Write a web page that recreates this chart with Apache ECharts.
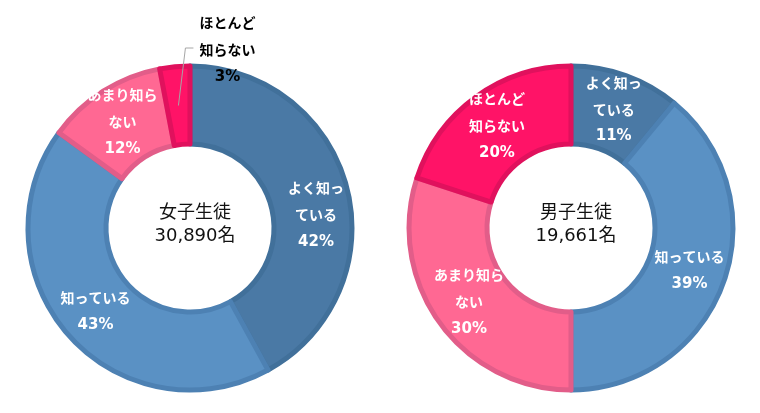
<!DOCTYPE html>
<html>
<head>
<meta charset="utf-8">
<script src="https://cdn.jsdelivr.net/npm/echarts@6/dist/echarts.min.js"></script>
<style>
html,body{margin:0;padding:0;background:#fff;}
#chart{width:760px;height:413px;}
</style>
</head>
<body>
<div id="chart"></div>
<script>
// ---- data ----
const categories = ['よく知っている', '知っている', 'あまり知らない', 'ほとんど知らない'];
const categoryLabels = ['よく知っ\nている', '知っている', 'あまり知ら\nない', 'ほとんど\n知らない'];
const femaleValues = [42, 43, 12, 3];
const maleValues = [11, 39, 30, 20];
const femaleTitle = '女子生徒\n30,890名';
const maleTitle = '男子生徒\n19,661名';

// ---- styles ----
const fills = ['#4a79a5', '#5a91c4', '#ff6893', '#ff1367'];
const borders = ['#41709a', '#4d81b3', '#e25d89', '#e0115d'];
const FONT = '"DejaVu Sans", "Noto Sans CJK JP", sans-serif';
const JFONT = '"Noto Sans CJK JP", sans-serif';
const leftCenter = [190, 228];
const rightCenter = [571, 228];
const radius = [84, 162];

function midPoint(values, idx, center) {
  const total = values.reduce((a, b) => a + b, 0);
  let before = 0;
  for (let i = 0; i < idx; i++) before += values[i];
  const a = (before + values[idx] / 2) / total * Math.PI * 2;
  const r = (radius[0] + radius[1]) / 2;
  return [center[0] + r * Math.sin(a), center[1] - r * Math.cos(a)];
}

function labelText(i, v) {
  return categoryLabels[i].split('\n').map(s => '{t|' + s + '}').join('\n') + '\n{p|' + v + '%}';
}

function richFor(color) {
  return {
    t: { fontFamily: JFONT, fontWeight: 'bold', fontSize: 14, lineHeight: 27, color: color },
    p: { fontFamily: FONT, fontWeight: 'bold', fontSize: 15, lineHeight: 27, color: color }
  };
}

function buildData(values, overrides) {
  return values.map((v, i) => {
    const item = {
      name: categories[i],
      value: v,
      itemStyle: { color: fills[i], borderColor: borders[i], borderWidth: 5 },
      label: { formatter: labelText(i, v) }
    };
    if (overrides && overrides[i]) {
      const o = overrides[i];
      if (o.label) Object.assign(item.label, o.label);
    }
    return item;
  });
}

const baseLabel = {
  show: true,
  position: 'inside',
  align: 'center',
  rich: richFor('#fff')
};

const chart = echarts.init(document.getElementById('chart'), null, { renderer: 'canvas' });

const titleStyle = {
  fontFamily: FONT, fontWeight: 'normal', fontSize: 18, lineHeight: 23, color: '#111'
};

// overlay series: only carries the outside label + leader line of the small female slice
const overlayData = femaleValues.map((v, i) => ({
  name: categories[i],
  value: v,
  itemStyle: { color: 'rgba(0,0,0,0)', borderWidth: 0 },
  label: i === 3
    ? { show: true, position: 'outside', formatter: labelText(i, v), rich: richFor('#000'), align: 'center' }
    : { show: false },
  labelLine: i === 3
    ? { show: true, length: 10, length2: 8, lineStyle: { color: '#a6a6a6', width: 1 } }
    : { show: false }
}));

const option = {
  backgroundColor: '#fff',
  animation: false,
  title: [
    { text: femaleTitle, left: leftCenter[0], top: leftCenter[1] - 31, textAlign: 'center', textStyle: titleStyle },
    { text: maleTitle, left: rightCenter[0], top: rightCenter[1] - 31, textAlign: 'center', textStyle: titleStyle }
  ],
  series: [
    {
      type: 'pie',
      center: leftCenter,
      radius: radius,
      startAngle: 90,
      clockwise: true,
      avoidLabelOverlap: false,
      label: baseLabel,
      labelLine: { show: false },
      data: buildData(femaleValues, {
        0: { label: { offset: [4, 18] } },
        3: { label: { show: false } }
      })
    },
    {
      type: 'pie',
      center: leftCenter,
      radius: radius,
      startAngle: 90,
      clockwise: true,
      avoidLabelOverlap: false,
      silent: true,
      z: 5,
      data: overlayData,
      labelLayout: function (params) {
        if (params.dataIndex === 3) {
          const p = midPoint(femaleValues, 3, leftCenter);
          const y = 50;
          return {
            x: p[0] + 49, y: y, align: 'center', verticalAlign: 'middle',
            labelLinePoints: [[p[0], p[1]], [p[0] + 7, y - 2], [p[0] + 15, y - 2]]
          };
        }
        return {};
      }
    },
    {
      type: 'pie',
      center: rightCenter,
      radius: radius,
      startAngle: 90,
      clockwise: true,
      avoidLabelOverlap: false,
      label: baseLabel,
      labelLine: { show: false },
      data: buildData(maleValues)
    }
  ]
};
chart.setOption(option);
</script>
</body>
</html>
